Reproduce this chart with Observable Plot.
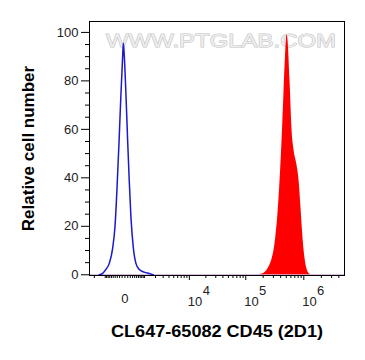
<!DOCTYPE html>
<html>
<head>
<meta charset="utf-8">
<script src="https://cdn.jsdelivr.net/npm/d3@7"></script>
<script src="https://cdn.jsdelivr.net/npm/@observablehq/plot@0.6"></script>
<style>
  html, body { margin: 0; padding: 0; background: #ffffff; }
</style>
</head>
<body>
<div id="chart"></div>
<script>
// ---- Data ----
// Blue: unstained / isotype control histogram
const blueX = [-1500, -1200, -950, -730, -530, -410, -316, -227, -145, -81, -55, -25, 34, 96, 157, 227, 330, 462, 645, 971, 1369, 1750];
const blueY = [0, 0.6, 2.2, 4.7, 11, 19.8, 35, 54, 74.6, 90, 95.5, 91, 74.6, 55.4, 39, 23.9, 11.5, 4.7, 2.2, 1.1, 0.5, 0];
// Red: CL647-65082 CD45 stained histogram
const redX = [1.7e5, 2.07e5, 2.53e5, 2.81e5, 3.08e5, 3.30e5, 3.52e5, 3.91e5, 4.30e5, 4.58e5, 4.84e5, 5.15e5, 5.36e5, 5.80e5, 6.28e5, 6.80e5, 7.56e5, 8.28e5, 8.85e5, 9.47e5, 1.04e6, 1.15e6, 1.31e6];
const redY = [0, 0.6, 3.3, 6, 10.2, 15.6, 22.5, 39, 59.5, 76, 89.7, 99, 96.6, 80, 59.5, 51.3, 45.8, 39, 29.4, 18.4, 7.4, 1.9, 0];

// Ticks and labels
const yMajorTicks = [0, 20, 40, 60, 80, 100];
const yMinorTicks = [5, 10, 15, 25, 30, 35, 45, 50, 55, 65, 70, 75, 85, 90, 95];
const xZeroLabel = [0];
const xPowerTicks = [1e4, 1e5, 1e6];
const xPowerBase = ["10", "10", "10"];
const xPowerExp = ["4", "5", "6"];
const xMinorTicks = [-2000, -1000, -900, -800, -700, -600, -500, -400, -300, -200, -100, 0,
  100, 200, 300, 400, 500, 600, 700, 800, 900, 1000,
  2000, 3000, 4000, 5000, 6000, 7000, 8000, 9000,
  2e4, 3e4, 4e4, 5e4, 6e4, 7e4, 8e4, 9e4,
  2e5, 3e5, 4e5, 5e5, 6e5, 7e5, 8e5, 9e5,
  2e6, 3e6, 4e6];
const xTitle = ["CL647-65082 CD45 (2D1)"];
const yTitle = ["Relative cell number"];
const watermark = ["WWW.PTGLAB.COM"];

const blue = blueX.map((x, i) => ({x, y: blueY[i]}));
const red = redX.map((x, i) => ({x, y: redY[i]}));

const FONT = "Arial, 'Liberation Sans', Helvetica, sans-serif";

const chart = Plot.plot({
  width: 365,
  height: 360,
  marginLeft: 89,
  marginRight: 21,
  marginTop: 21,
  marginBottom: 85,
  style: {fontFamily: FONT, background: "#ffffff", color: "#000"},
  x: {type: "symlog", constant: 850, domain: [-2600, 5e6]},
  y: {domain: [-0.3, 104.5]},
  marks: [
    // watermark
    Plot.text(watermark, {text: d => d, frameAnchor: "top", lineAnchor: "middle", textAnchor: "middle",
      dx: 4, dy: 19.5, fontSize: 19, fill: "#ededed", stroke: "#c2c2c2", strokeWidth: 1}),
    // baseline
    Plot.ruleY([0], {stroke: "#c9a3cf", strokeWidth: 1}),
    // red filled histogram
    Plot.areaY(red, {x: "x", y: "y", fill: "#ff0000", curve: "monotone-x"}),
    // blue outline histogram
    Plot.line(blue, {x: "x", y: "y", stroke: "#1a1acc", strokeWidth: 1.5, curve: "monotone-x"}),
    Plot.frame({stroke: "#000"}),
    // y axis
    Plot.axisY({ticks: yMajorTicks, tickSize: 8, tickPadding: 3, fontSize: 13, label: null, fill: "#222"}),
    Plot.axisY({ticks: yMinorTicks, tickSize: 4, tickFormat: () => "", label: null}),
    // x axis ticks
    Plot.axisX({ticks: xPowerTicks, tickSize: 5, tickFormat: () => "", label: null}),
    Plot.axisX({ticks: xMinorTicks, tickSize: 3, tickFormat: () => "", label: null}),
    // x tick labels
    Plot.text(xZeroLabel, {x: d => d, text: d => String(d), frameAnchor: "bottom", lineAnchor: "middle",
      textAnchor: "middle", dy: 23, fontSize: 13, fill: "#222"}),
    Plot.text(xPowerTicks, {x: d => d, text: (d, i) => xPowerBase[i], frameAnchor: "bottom", lineAnchor: "middle",
      textAnchor: "start", dx: -1.5, dy: 26, fontSize: 13, fill: "#222"}),
    Plot.text(xPowerTicks, {x: d => d, text: (d, i) => xPowerExp[i], frameAnchor: "bottom", lineAnchor: "middle",
      textAnchor: "start", dx: 13.3, dy: 15, fontSize: 13, fill: "#222"}),
    // axis titles
    Plot.text(xTitle, {text: d => d, frameAnchor: "bottom", lineAnchor: "middle", textAnchor: "middle",
      dy: 56, fontSize: 16, fontWeight: "bold", fill: "#000"}),
    Plot.text(yTitle, {text: d => d, frameAnchor: "left", lineAnchor: "middle", textAnchor: "middle",
      dx: -61, rotate: -90, fontSize: 17, fontWeight: "bold", fill: "#000"})
  ]
});

document.getElementById("chart").appendChild(chart);

// fine typography adjustments
chart.querySelectorAll("text").forEach(t => {
  if (t.textContent === watermark[0]) {
    t.setAttribute("textLength", "230");
    t.setAttribute("lengthAdjust", "spacingAndGlyphs");
  }
  if (t.textContent === xTitle[0]) {
    t.setAttribute("textLength", "212");
    t.setAttribute("lengthAdjust", "spacingAndGlyphs");
  }
});
</script>
</body>
</html>
